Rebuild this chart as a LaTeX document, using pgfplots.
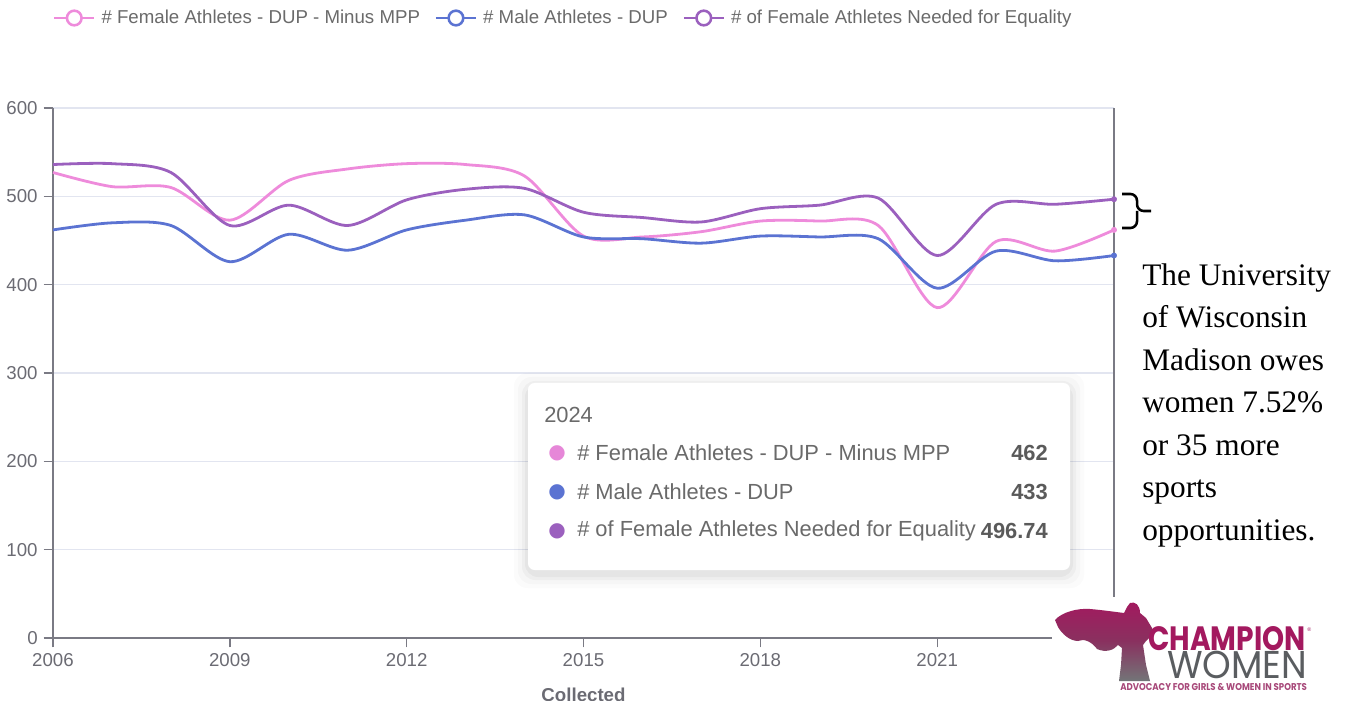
\documentclass[border=0pt]{standalone}
\usepackage{fontspec}
\setmainfont{Liberation Sans}
\newfontfamily\timesf{Liberation Serif}
\newfontfamily\poppins{Poppins}
\newfontfamily\dejavu{DejaVu Sans}
\usepackage{pgfplots}
\pgfplotsset{compat=1.18}
\definecolor{pinkc}{HTML}{EE8BDB}
\definecolor{bluec}{HTML}{5B73D2}
\definecolor{purpc}{HTML}{9B60BE}
\definecolor{gridc}{HTML}{E2E5F0}
\definecolor{axisc}{HTML}{7A7A84}
\definecolor{tickc}{HTML}{6B6B73}
\definecolor{tipc}{HTML}{6A6A6A}
\definecolor{tipv}{HTML}{5A5A5A}
\definecolor{magc}{HTML}{A3195F}
\definecolor{wgray}{HTML}{5A5D60}
\definecolor{tagc}{HTML}{A8497A}
\pgfplotstableread{
year pink blue purp
2006 527 462 536
2007 511 470 537
2008 510 467 527
2009 473 426 467
2010 518 457 490
2011 531 439 467
2012 537 462 496
2013 536 473 508
2014 523 479 509
2015 455 454 482
2016 454 452 476
2017 460 447 471
2018 472 455 486
2019 472 454 490
2020 467 452 498
2021 374 396 433
2022 449 438 491
2023 438 427 491
2024 462 433 496.74
}\datatable
\begin{document}
\begin{tikzpicture}
\useasboundingbox (0pt,0pt) rectangle (1011pt,525pt);
\begin{axis}[
  at={(39.75pt,46.5pt)}, anchor=south west,
  scale only axis, width=795.75pt, height=397.5pt,
  xmin=2006, xmax=2024, ymin=0, ymax=600,
  axis lines=left, axis line style={-, draw=axisc, line width=1.1pt},
  xtick={2006,2009,2012,2015,2018,2021},
  ytick={0,100,200,300,400,500,600},
  tick align=outside, major tick length=7pt,
  tick style={draw=axisc, line width=1pt},
  ymajorgrids, grid style={draw=gridc, line width=0.9pt},
  /pgf/number format/1000 sep={},
  /pgf/number format/assume math mode=true,
  tick label style={font=\fontsize{14}{16}\selectfont, text=tickc},
  xticklabel style={yshift=-1pt},
  yticklabel style={xshift=-1pt},
  clip=false,
  legend columns=3,
  legend style={at={(0,1.1698)}, anchor=west, draw=none, fill=none,
    inner sep=0pt, outer sep=0pt,
    font=\fontsize{14}{16}\selectfont, text=tipc,
    nodes={inner sep=0pt, anchor=west},
    /tikz/every odd column/.append style={column sep=4.5pt},
    /tikz/every even column/.append style={column sep=11pt}},
  legend image code/.code={
    \draw[#1, line width=1.9pt] (0pt,0pt) -- (30pt,0pt);
    \draw[#1, line width=1.9pt, fill=white] (15pt,0pt) circle (5.5pt);},
]
\draw[draw=axisc, line width=1.1pt] (axis cs:2024,0) -- (axis cs:2024,600);
\addplot[pinkc, line width=2.1pt, smooth, tension=0.5, no markers] table[x=year,y=pink] {\datatable};
\addlegendentry{\# Female Athletes - DUP - Minus MPP}
\addplot[bluec, line width=2.1pt, smooth, tension=0.5, no markers] table[x=year,y=blue] {\datatable};
\addlegendentry{\# Male Athletes - DUP}
\addplot[purpc, line width=2.1pt, smooth, tension=0.5, no markers] table[x=year,y=purp] {\datatable};
\addlegendentry{\# of Female Athletes Needed for Equality}
\addplot[pinkc, only marks, mark=*, mark size=2pt, forget plot] coordinates {(2024,462)};
\addplot[bluec, only marks, mark=*, mark size=2pt, forget plot] coordinates {(2024,433)};
\addplot[purpc, only marks, mark=*, mark size=2pt, forget plot] coordinates {(2024,496.74)};
\end{axis}
\begin{scope}[yshift=525pt, x=0.75pt, y=-0.75pt]
% x label (cut off at bottom, as in the reference)
\node[anchor=north, inner sep=0pt, font=\bfseries\fontsize{14}{16}\selectfont, text=tickc] at (583.5,688) {Collected};
% tooltip
\foreach \s/\o in {14/0.015,10/0.02,6/0.03,3/0.04}
  \fill[black, opacity=\o, rounded corners=10pt] (528-\s,383-\s+4) rectangle (1070+\s,570+\s+4);
\fill[white, rounded corners=5pt] (528,383) rectangle (1070,570);
\node[anchor=west, inner sep=0pt, font=\fontsize{16.4}{18}\selectfont, text=tipc] at (544,415) {2024};
\node[anchor=center, inner sep=0pt, font=\dejavu\fontsize{15}{18}\selectfont, text=pinkc!90!purpc] at (557,453) {●};
\node[anchor=center, inner sep=0pt, font=\dejavu\fontsize{15}{18}\selectfont, text=bluec] at (557,492) {●};
\node[anchor=center, inner sep=0pt, font=\dejavu\fontsize{15}{18}\selectfont, text=purpc] at (557,531) {●};
\node[anchor=west, inner sep=0pt, font=\fontsize{16.4}{18}\selectfont, text=tipc] at (577,453) {\# Female Athletes - DUP - Minus MPP};
\node[anchor=west, inner sep=0pt, font=\fontsize{16.4}{18}\selectfont, text=tipc] at (577,492) {\# Male Athletes - DUP};
\node[anchor=west, inner sep=0pt, font=\fontsize{16.4}{18}\selectfont, text=tipc] at (577,531) {\# of Female Athletes Needed for Equality};
\node[anchor=east, inner sep=0pt, font=\bfseries\fontsize{16.4}{18}\selectfont, text=tipv] at (1048,453) {462};
\node[anchor=east, inner sep=0pt, font=\bfseries\fontsize{16.4}{18}\selectfont, text=tipv] at (1048,492) {433};
\node[anchor=east, inner sep=0pt, font=\bfseries\fontsize{16.4}{18}\selectfont, text=tipv] at (1048,531) {496.74};
% brace
\draw[black, line width=1.9pt, rounded corners=5pt] (1122,194) -- (1137,194) -- (1137,211) -- (1151,211);
\draw[black, line width=1.9pt, rounded corners=5pt] (1122,228) -- (1137,228) -- (1137,211);
% right text
\node[anchor=north west, inner sep=0pt, align=left, font=\timesf\fontsize{23.5}{31.9}\selectfont] at (1142,263)
  {The University\\of Wisconsin\\Madison owes\\women 7.52\%\\or 35 more\\sports\\opportunities.};
% logo
\fill[white] (1052,597) rectangle (1348,700);
\shade[top color=magc, bottom color=wgray!85, middle color=magc!65!wgray]
  (1130,603) .. controls (1135,601) and (1140,605) .. (1140,613) -- (1146,618) -- (1152,628) -- (1153,634)
  -- (1146,641) -- (1143,645) -- (1146,665) -- (1150,681)
  -- (1119,681) -- (1121,665) -- (1122,648) -- (1118,645)
  .. controls (1114,650) and (1106,653) .. (1097,649)
  .. controls (1092,642) and (1084,638) .. (1078,641)
  .. controls (1070,641) and (1062,634) .. (1058,627)
  -- (1055,620) .. controls (1062,612) and (1078,608) .. (1090,609)
  .. controls (1102,610) and (1116,612) .. (1124,613) -- (1127,607) -- cycle;
\node[anchor=south west, inner sep=0pt, text=magc] at (1148,651) {\resizebox{118pt}{18pt}{\poppins\bfseries CHAMPION}};
\node[anchor=south west, inner sep=0pt, text=magc] at (1307,632) {\fontsize{4}{4}\selectfont ®};
\node[anchor=south west, inner sep=0pt, text=wgray] at (1167,679) {\resizebox{105pt}{20.5pt}{\poppins WOMEN}};
\node[anchor=south west, inner sep=0pt, text=tagc] at (1120,691) {\resizebox{140pt}{5.3pt}{\poppins\bfseries ADVOCACY FOR GIRLS \& WOMEN IN SPORTS}};
\end{scope}
\end{tikzpicture}
\end{document}
